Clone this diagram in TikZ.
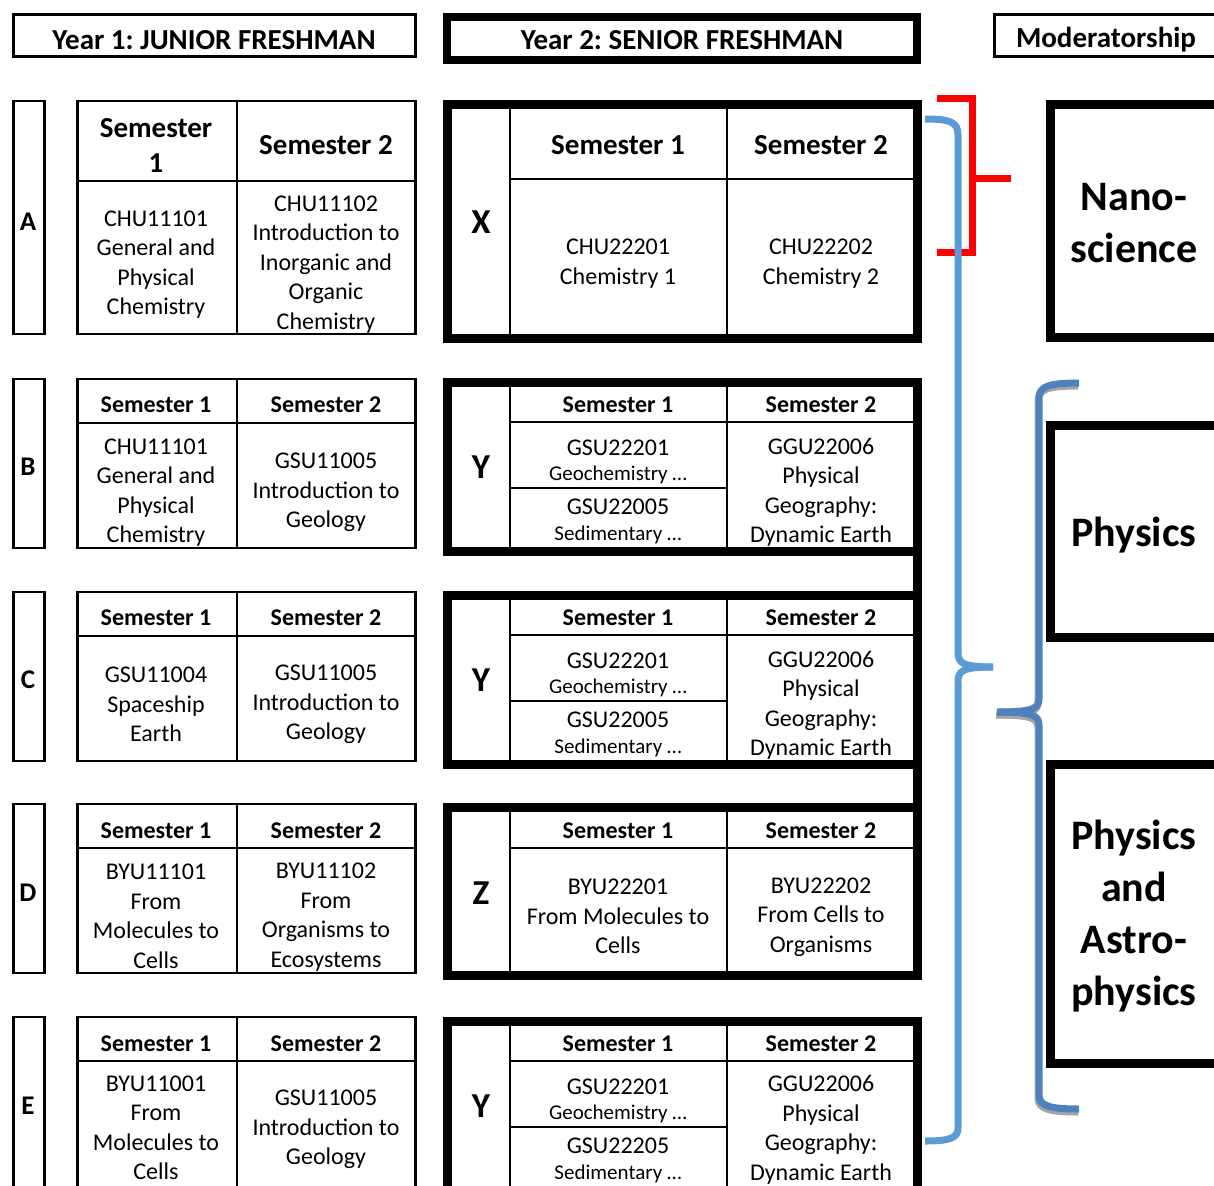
\documentclass[tikz,border=0pt]{standalone}
\usepackage{fontspec}
\setmainfont{Carlito}
\frenchspacing
\definecolor{lblue}{HTML}{5B9BD5}
\definecolor{dblue}{HTML}{4F81BD}
\definecolor{shadowgrey}{HTML}{A5A5A5}
\newcommand{\fbody}{\fontsize{24}{29.5}\selectfont}
\newcommand{\fhead}{\fontsize{24}{29}\selectfont\bfseries}
\newcommand{\fbighead}{\fontsize{29}{35}\selectfont\bfseries}
\newcommand{\fsmall}{\fontsize{21}{24}\selectfont}
\newcommand{\ftitle}{\fontsize{29}{32}\selectfont\bfseries}
\newcommand{\fletter}{\fontsize{27}{30}\selectfont\bfseries}
\newcommand{\fbigletter}{\fontsize{35}{38}\selectfont\bfseries}
\newcommand{\fhuge}{\fontsize{42}{52}\selectfont\bfseries}
\begin{document}
\begin{tikzpicture}[x=1pt,y=-1pt,
 thinbox/.style={draw=black,line width=2.6pt},
 thickbox/.style={draw=black,line width=9pt},
 gridline/.style={draw=black,line width=2.2pt},
 txt/.style={align=center,inner sep=0pt,font=\fbody,yshift=-2.5pt},
 hdr/.style={align=center,inner sep=0pt,font=\fhead},
 bighdr/.style={align=center,inner sep=0pt,font=\fbighead},
 smalltxt/.style={inner sep=0pt,font=\fsmall},
 lettr/.style={inner sep=0pt,font=\fletter},
 bigletter/.style={inner sep=0pt,font=\fbigletter},
 title/.style={inner sep=0pt,font=\ftitle},
 huge/.style={align=center,inner sep=0pt,font=\fhuge},
 brace/.style={line width=7pt}]
\useasboundingbox (0,0) rectangle (1214,1185);
\clip (0,0) rectangle (1214,1185);
% headers
\draw[thinbox] (13.3,14.3) rectangle (415.7,56.7);
\node[title] (t1) at (214,40) {Year 1: JUNIOR FRESHMAN};
\draw[line width=8pt] (447,17) rectangle (917,60);
\node[title] (t2) at (682,40) {Year 2: SENIOR FRESHMAN};
\draw[thinbox] (994.3,14.3) rectangle (1240,56.7);
\node[title] (t3) at (1106,40) {Moderatorship};
% year 1 tables
\foreach \t/\h/\b in {101/181/334, 379/423/548, 592/636/761, 804/848/973, 1017/1061/1200} {
  \draw[thinbox] (13.3,\t) rectangle (44.2,\b);
  \draw[thinbox] (77.3,\t) rectangle (415.7,\b);
  \draw[gridline] (77.3,\h) -- (415.7,\h) (237,\t) -- (237,\b);
}
% A
\node[lettr] (la) at (28,222) {A};
\node[bighdr] (a-h1) at (156,145) {Semester\\1};
\node[bighdr] (a-h2) at (326,145) {Semester 2};
\node[txt] (a-c1) at (156,262) {CHU11101\\General and\\Physical\\Chemistry};
\node[txt] (a-c2) at (326,262) {CHU11102\\Introduction to\\Inorganic and\\Organic\\Chemistry};
% B
\node[lettr] (lb) at (28,467) {B};
\node[hdr] (b-h1) at (156,405) {Semester 1};
\node[hdr] (b-h2) at (326,405) {Semester 2};
\node[txt] (b-c1) at (156,490) {CHU11101\\General and\\Physical\\Chemistry};
\node[txt] (b-c2) at (326,490) {GSU11005\\Introduction to\\Geology};
% C
\node[lettr] (lc) at (28,680) {C};
\node[hdr] (c-h1) at (156,618) {Semester 1};
\node[hdr] (c-h2) at (326,618) {Semester 2};
\node[txt] (c-c1) at (156,702) {GSU11004\\Spaceship\\Earth};
\node[txt] (c-c2) at (326,702) {GSU11005\\Introduction to\\Geology};
% D
\node[lettr] (ld) at (28,893) {D};
\node[hdr] (d-h1) at (156,831) {Semester 1};
\node[hdr] (d-h2) at (326,831) {Semester 2};
\node[txt] (d-c1) at (156,914) {BYU11101\\From\\Molecules to\\Cells};
\node[txt] (d-c2) at (326,914.5) {BYU11102\\From\\Organisms to\\Ecosystems};
% E
\node[lettr] (le) at (28,1106) {E};
\node[hdr] (e-h1) at (156,1044) {Semester 1};
\node[hdr] (e-h2) at (326,1044) {Semester 2};
\node[txt] (e-c1) at (156,1125.5) {BYU11001\\From\\Molecules to\\Cells};
\node[txt] (e-c2) at (326,1127) {GSU11005\\Introduction to\\Geology};
% X
\draw[thickbox] (447.5,104.5) rectangle (917.5,338.5);
\draw[gridline] (510,109) -- (510,334) (727,109) -- (727,334) (510,179) -- (913,179);
\node[bigletter] (lx) at (481,222) {X};
\node[bighdr] (x-h1) at (618,145) {Semester 1};
\node[bighdr] (x-h2) at (821,145) {Semester 2};
\node[txt] (x-c1) at (618,261) {CHU22201\\Chemistry 1};
\node[txt] (x-c2) at (821,261) {CHU22202\\Chemistry 2};
% Y tables
\foreach \n/\dy/\code/\dc in {yb/0/GSU22005/0, yc/213/GSU22005/0, ye/639/GSU22205/-1.5} {
 \begin{scope}[shift={(0,\dy)}]
  \draw[thickbox] (447.5,382.5) rectangle (917.5,551);
  \draw[gridline] (510,387) -- (510,547) (727,387) -- (727,547) (510,422) -- (913,422) (510,488) -- (727,488);
  \node[bigletter] (\n-l) at (481,467) {Y};
  \node[hdr] (\n-h1) at (618,405) {Semester 1};
  \node[hdr] (\n-h2) at (821,405) {Semester 2};
  \node[txt] (\n-a1) at (618,445.5) {GSU22201};
  \node[smalltxt] (\n-a2) at (618,475) {Geochemistry …};
  \node[txt] (\n-b1) at (618,504.5) {\code};
  \node[smalltxt] (\n-b2) at (618,535) {Sedimentary …};
  \node[txt] (\n-c2) at (821,490+\dc) {GGU22006\\Physical\\Geography:\\Dynamic Earth};
 \end{scope}
}
% Z
\draw[thickbox] (447.5,807.5) rectangle (917.5,975.5);
\draw[gridline] (510,812) -- (510,971) (727,812) -- (727,971) (510,848) -- (913,848);
\node[bigletter] (lz) at (481,893) {Z};
\node[hdr] (z-h1) at (618,831) {Semester 1};
\node[hdr] (z-h2) at (821,831) {Semester 2};
\node[txt] (z-c1) at (618,914) {BYU22201\\From Molecules to\\Cells};
\node[txt] (z-c2) at (821,914.5) {BYU22202\\From Cells to\\Organisms};
% right bar joining Y, Y, Z
\draw[line width=9pt] (917.5,382.5) -- (917.5,975.5);
% moderatorship boxes
\draw[thickbox] (1050,104.5) rectangle (1240,337.5);
\draw[thickbox] (1050,425.5) rectangle (1240,637.5);
\draw[thickbox] (1050,764.5) rectangle (1240,1063.5);
\node[huge] (nano) at (1134,223) {Nano-\\science};
\node[huge] (phys) at (1134,535) {Physics};
\node[huge] (astro) at (1134,916) {Physics\\and\\Astro-\\physics};
% red bracket
\draw[red,brace] (937,98.5) -- (972,98.5) -- (972,252) -- (937,252);
\draw[red,brace] (972,178.5) -- (1011,178.5);
% light blue brace
\draw[lblue,brace] (925,119) .. controls (950,119) and (958,122) .. (958,135) -- (958,652) .. controls (958,663) and (962,667) .. (993,667);
\draw[lblue,brace] (993,667) .. controls (962,667) and (958,671) .. (958,682) -- (958,1128) .. controls (958,1138) and (950,1141) .. (925,1141);
% dark blue brace with shadow
\begin{scope}[shift={(-1,3)}]
\draw[shadowgrey,brace] (1079,383) .. controls (1050,383) and (1039,386) .. (1039,398) -- (1039,698) .. controls (1039,708) and (1035,712) .. (997,712);
\draw[shadowgrey,brace] (997,712) .. controls (1035,712) and (1039,716) .. (1039,726) -- (1039,1095) .. controls (1039,1106) and (1050,1109) .. (1079,1109);
\end{scope}
\draw[dblue,brace] (1079,383) .. controls (1050,383) and (1039,386) .. (1039,398) -- (1039,698) .. controls (1039,708) and (1035,712) .. (997,712);
\draw[dblue,brace] (997,712) .. controls (1035,712) and (1039,716) .. (1039,726) -- (1039,1095) .. controls (1039,1106) and (1050,1109) .. (1079,1109);
\end{tikzpicture}
\end{document}
